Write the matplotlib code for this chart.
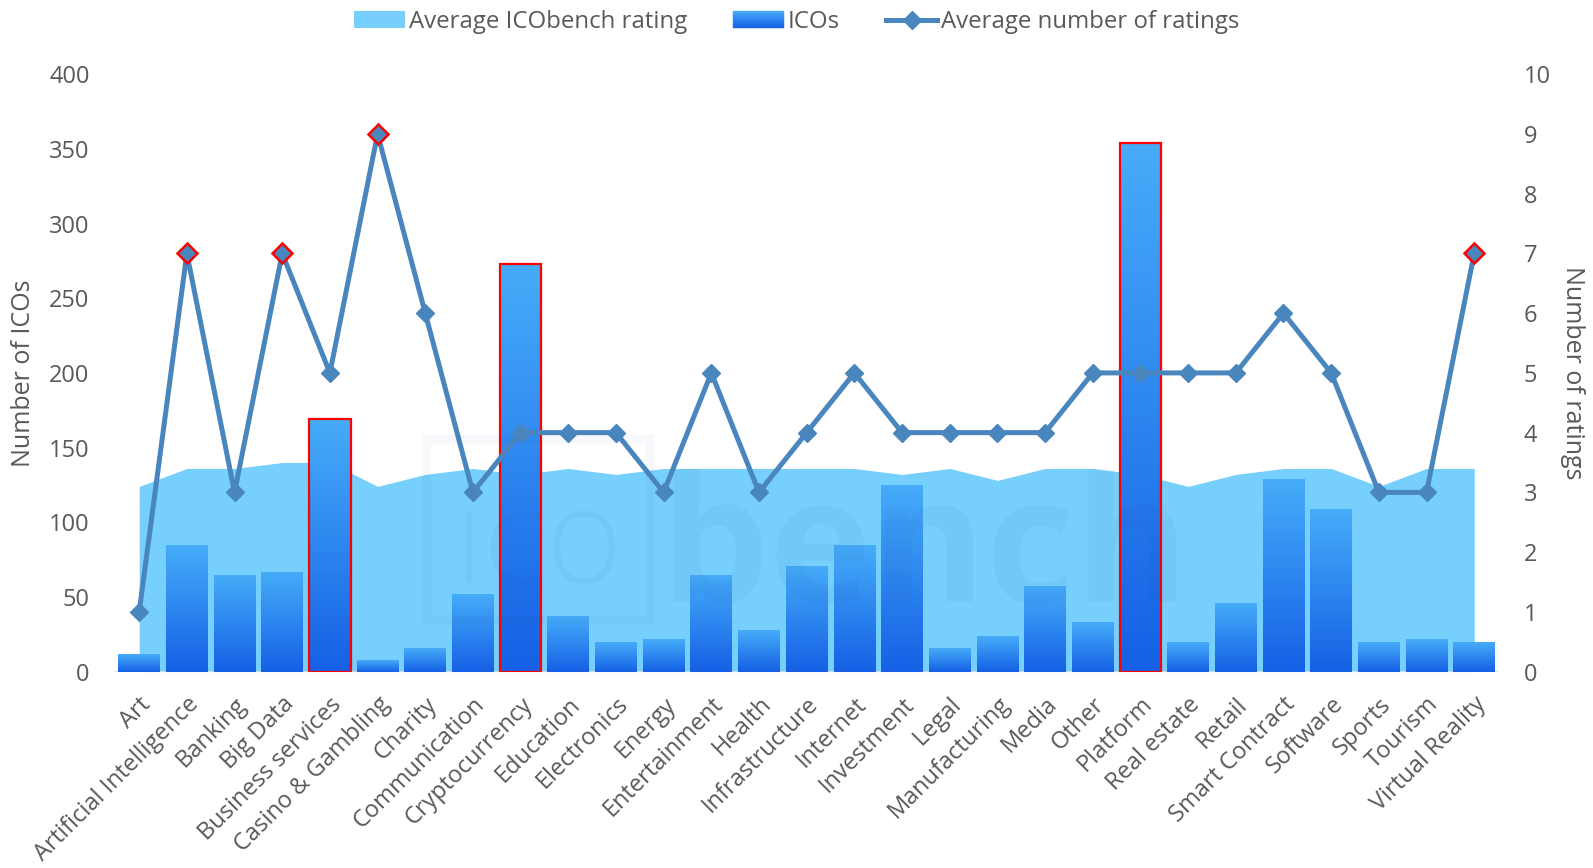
import numpy as np
import matplotlib
matplotlib.use("Agg")
import matplotlib.pyplot as plt
from matplotlib.colors import LinearSegmentedColormap
from matplotlib.patches import Rectangle
from matplotlib.lines import Line2D
from matplotlib.legend_handler import HandlerBase

# ---- data -------------------------------------------------------------
categories = [
    "Art", "Artificial Intelligence", "Banking", "Big Data", "Business services",
    "Casino & Gambling", "Charity", "Communication", "Cryptocurrency", "Education",
    "Electronics", "Energy", "Entertainment", "Health", "Infrastructure", "Internet",
    "Investment", "Legal", "Manufacturing", "Media", "Other", "Platform",
    "Real estate", "Retail", "Smart Contract", "Software", "Sports", "Tourism",
    "Virtual Reality",
]
ico_counts = [12, 85, 65, 67, 169, 8, 16, 52, 273, 37, 20, 22, 65, 28, 71, 85,
              125, 16, 24, 57, 33, 354, 20, 46, 129, 109, 20, 22, 20]
avg_rating = [3.1, 3.4, 3.4, 3.5, 3.5, 3.1, 3.3, 3.4, 3.3, 3.4, 3.3, 3.4, 3.4,
              3.4, 3.4, 3.4, 3.3, 3.4, 3.2, 3.4, 3.4, 3.3, 3.1, 3.3, 3.4, 3.4,
              3.1, 3.4, 3.4]
avg_num_ratings = [1, 7, 3, 7, 5, 9, 6, 3, 4, 4, 4, 3, 5, 3, 4, 5, 4, 4, 4, 4,
                   5, 5, 5, 5, 6, 5, 3, 3, 7]
left_ticks = [0, 50, 100, 150, 200, 250, 300, 350, 400]
right_ticks = list(range(0, 11))

# ---- style ------------------------------------------------------------
FONT = "Open Sans"
TEXT = "#595959"
AREA = "#76CFFC"
BAR_TOP = "#46ACF9"
BAR_BOTTOM = "#1560E5"
LINE = "#4A86BE"
HILITE = "#FF0000"
FS = 17

plt.rcParams["font.family"] = [FONT, "DejaVu Sans"]

fig = plt.figure(figsize=(15.93, 8.68), dpi=100)
fig.patch.set_facecolor("white")

x = np.arange(len(categories))
rect = [0.0724, 0.2263, 0.868, 0.6882]

# bottom layer: average rating area (right-hand scale)
ax_area = fig.add_axes(rect)
ax_area.fill_between(x, 0, avg_rating, color=AREA, linewidth=0, zorder=1)
ax_area.set_ylim(0, 10)
ax_area.set_xlim(-0.5, len(categories) - 0.5)
ax_area.set_yticks([])
for s in ax_area.spines.values():
    s.set_visible(False)

# middle layer: ICO counts (left-hand scale)
ax_bar = ax_area.twinx()
ax_bar.yaxis.tick_left()
ax_bar.yaxis.set_label_position("left")
bar_cmap = LinearSegmentedColormap.from_list("icobars", [BAR_BOTTOM, BAR_TOP])
grad = np.linspace(0, 1, 256).reshape(-1, 1)
top_three = set(np.argsort(ico_counts)[-3:])
width = 0.875
bars = ax_bar.bar(x, ico_counts, width=width, color="none", edgecolor="none",
                  zorder=3)
for i, b in enumerate(bars):
    x0, h = b.get_x(), b.get_height()
    img = ax_bar.imshow(grad, extent=[x0, x0 + width, 0, h], origin="lower",
                        aspect="auto", cmap=bar_cmap, zorder=2,
                        interpolation="bilinear")
    img.set_clip_path(b)
    if i in top_three:
        b.set_edgecolor(HILITE)
        b.set_linewidth(1.6)
ax_bar.axhline(0, color="#D9D9D9", lw=2, zorder=1)
ax_bar.set_xlim(-0.5, len(categories) - 0.5)
ax_bar.set_ylim(0, 400)
ax_bar.set_aspect("auto")
ax_bar.set_yticks(left_ticks)
ax_bar.tick_params(axis="y", length=0, pad=18.5, labelsize=FS, labelcolor=TEXT)
ax_bar.set_ylabel("Number of ICOs", fontsize=FS + 1, color=TEXT, va="center")
ax_bar.yaxis.set_label_coords(-0.0665, 0.5)
for s in ax_bar.spines.values():
    s.set_visible(False)

# top layer: average number of ratings (right-hand scale)
ax_line = ax_area.twinx()
ax_line.plot(x, avg_num_ratings, color=LINE, lw=3.6, marker="D", ms=9.5,
             markerfacecolor=LINE, markeredgecolor=LINE, zorder=4,
             solid_joinstyle="miter")
peak = [i for i, v in enumerate(avg_num_ratings) if v >= 7]
ax_line.plot(x[peak], [avg_num_ratings[i] for i in peak], linestyle="none",
             marker="D", ms=10, markerfacecolor=LINE, markeredgecolor=HILITE,
             markeredgewidth=1.8, zorder=5)
ax_line.set_ylim(0, 10)
ax_line.set_xlim(-0.5, len(categories) - 0.5)
ax_line.set_yticks(right_ticks)
ax_line.tick_params(axis="y", length=0, pad=18.5, labelsize=FS, labelcolor=TEXT)
ax_line.set_ylabel("Number of ratings", fontsize=FS + 1, color=TEXT,
                   rotation=270, va="center")
ax_line.yaxis.set_label_coords(1.054, 0.5)
for s in ax_line.spines.values():
    s.set_visible(False)

# category labels
ax_area.set_xticks(x)
ax_area.set_xticklabels(categories, rotation=45, ha="right", va="top",
                        rotation_mode="anchor", fontsize=FS, color=TEXT)
ax_area.tick_params(axis="x", length=0, pad=15)

# faint site watermark
wm_color = "#2A3C8F"
fig.patches.append(Rectangle((427 / 1593, 1 - 620 / 868), 223 / 1593, 181 / 868,
                             transform=fig.transFigure, fill=False,
                             edgecolor=wm_color, lw=6, alpha=0.035, zorder=10))
fig.text(538 / 1593, 1 - 548 / 868, "ico", fontsize=95, fontweight="light",
         color=wm_color, alpha=0.045, ha="center", va="center", zorder=10)
fig.text(924 / 1593, 1 - 556 / 868, "bench", fontsize=125, fontweight="bold",
         color=wm_color, alpha=0.045, ha="center", va="center", zorder=10)


# legend with a gradient swatch for the bars
class GradientSwatch(HandlerBase):
    def create_artists(self, legend, orig_handle, xdescent, ydescent, width,
                       height, fontsize, trans):
        n = 12
        arts = []
        for k in range(n):
            c = bar_cmap(1 - (k + 0.5) / n)
            r = Rectangle((-xdescent, -ydescent + height * (1 - (k + 1) / n)),
                          width, height / n, facecolor=c, edgecolor=c, lw=0.3,
                          transform=trans)
            arts.append(r)
        return arts


area_handle = Rectangle((0, 0), 1, 1, facecolor=AREA, edgecolor="none")
bar_handle = Rectangle((0, 0), 1, 1, facecolor=BAR_TOP)
line_handle = Line2D([], [], color=LINE, lw=3.6, marker="D", ms=9,
                     markerfacecolor=LINE, markeredgecolor=LINE)
fig.legend([area_handle, bar_handle, line_handle],
           ["Average ICObench rating", "ICOs", "Average number of ratings"],
           handler_map={bar_handle: GradientSwatch()},
           loc="center", bbox_to_anchor=(0.5, 1 - 22 / 868), ncol=3,
           frameon=False, fontsize=FS + 0.3, labelcolor=TEXT, handlelength=2.15,
           handleheight=0.7, handletextpad=0.15, columnspacing=1.9,
           borderaxespad=0)

fig.savefig("out.png", dpi=100, facecolor="white")
